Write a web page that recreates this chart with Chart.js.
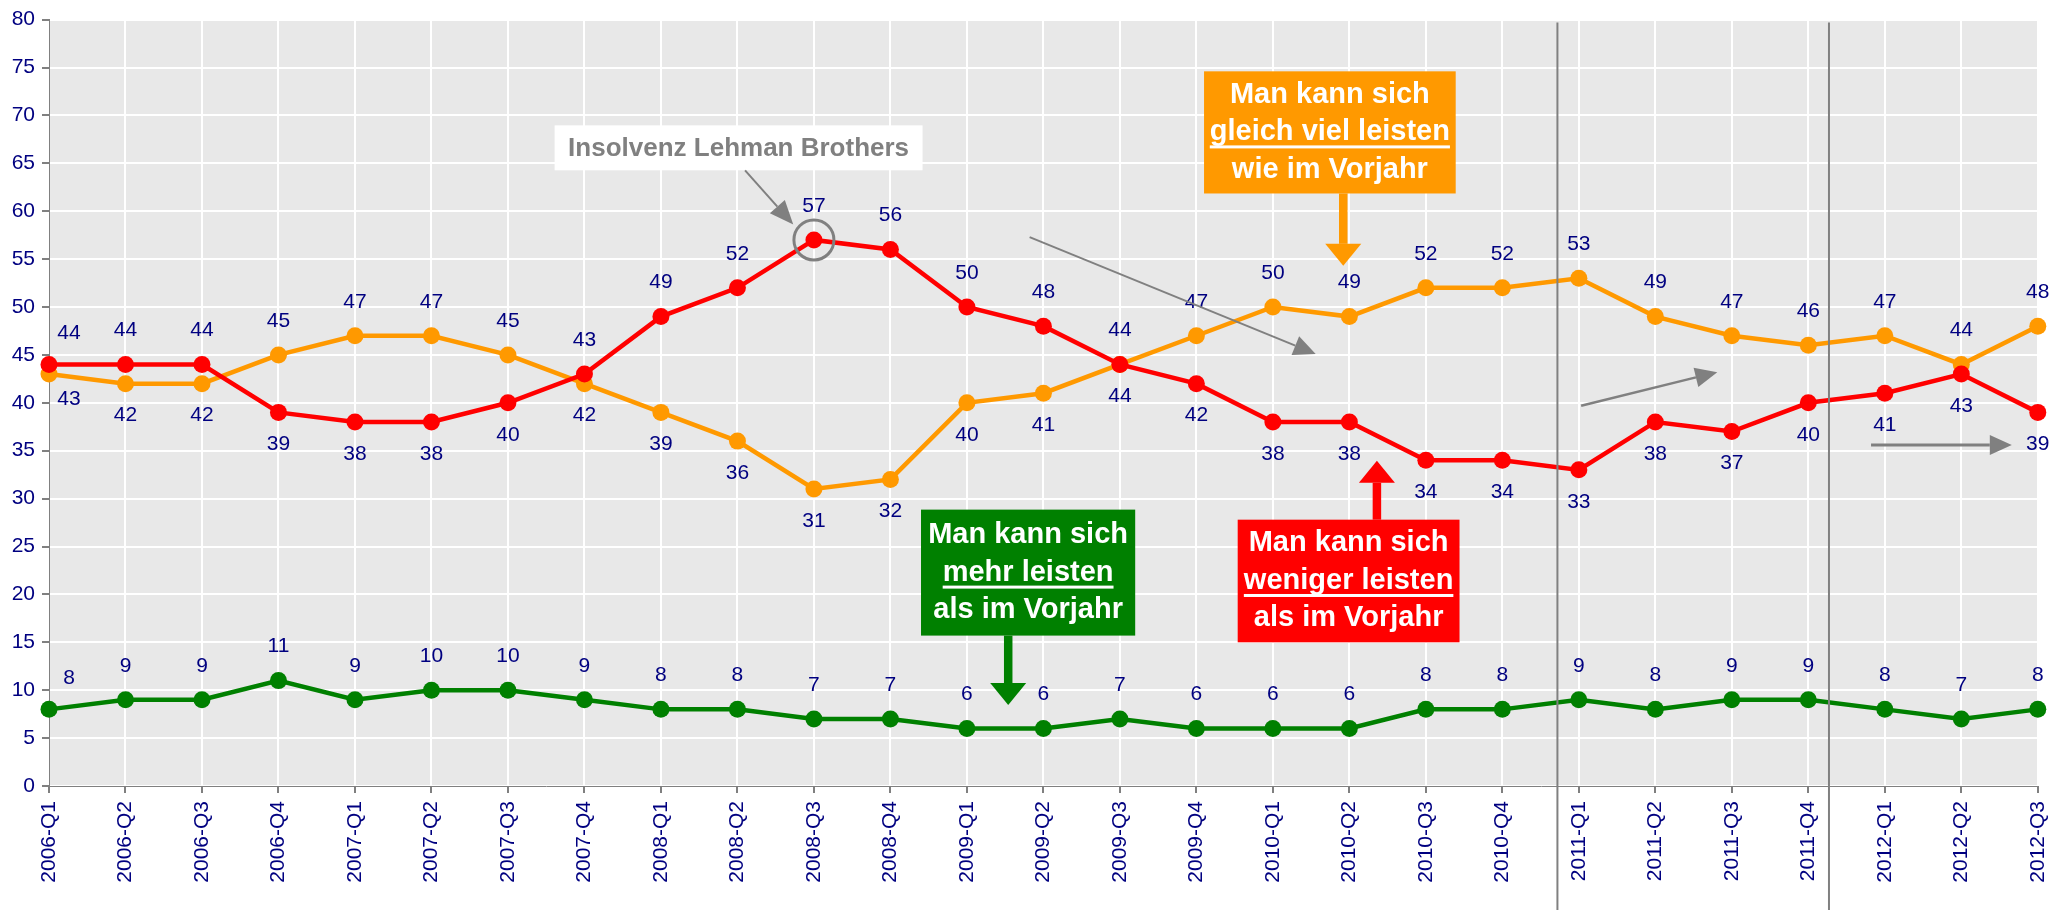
<!DOCTYPE html>
<html>
<head>
<meta charset="utf-8">
<script src="https://cdn.jsdelivr.net/npm/chart.js@4.4.1/dist/chart.umd.min.js"></script>
<style>
  html, body { margin: 0; padding: 0; background: #ffffff; }
  #chart { display: block; }
</style>
</head>
<body>
<canvas id="chart" width="2071" height="910"></canvas>
<script>
// ── Data ─────────────────────────────────────────────────────────────────────

const quarters = [
  '2006-Q1', '2006-Q2', '2006-Q3', '2006-Q4',
  '2007-Q1', '2007-Q2', '2007-Q3', '2007-Q4',
  '2008-Q1', '2008-Q2', '2008-Q3', '2008-Q4',
  '2009-Q1', '2009-Q2', '2009-Q3', '2009-Q4',
  '2010-Q1', '2010-Q2', '2010-Q3', '2010-Q4',
  '2011-Q1', '2011-Q2', '2011-Q3', '2011-Q4',
  '2012-Q1', '2012-Q2', '2012-Q3'
];

// "weniger leisten" (red), "gleich viel" (orange), "mehr leisten" (green)
const weniger = [44, 44, 44, 39, 38, 38, 40, 43, 49, 52, 57, 56, 50, 48, 44, 42, 38, 38, 34, 34, 33, 38, 37, 40, 41, 43, 39];
const gleich  = [43, 42, 42, 45, 47, 47, 45, 42, 39, 36, 31, 32, 40, 41, 44, 47, 50, 49, 52, 52, 53, 49, 47, 46, 47, 44, 48];
const mehr    = [8, 9, 9, 11, 9, 10, 10, 9, 8, 8, 7, 7, 6, 6, 7, 6, 6, 6, 8, 8, 9, 8, 9, 9, 8, 7, 8];

const yMin = 0;
const yMax = 80;
const yStep = 5;

// ── Styling ──────────────────────────────────────────────────────────────────

const FONT = "'Liberation Sans', Arial, sans-serif";
const NAVY = '#000080';
const RED = '#ff0000';
const ORANGE = '#ff9900';
const GREEN = '#008000';
const GREY = '#808080';

// Annotations, positioned in data units (x = category index, y = value)
const dividers = [19.72, 23.27];

const calloutBoxes = [
  { lines: ['Man kann sich', 'gleich viel leisten', 'wie im Vorjahr'], bg: ORANGE,
    x1: 15.10, x2: 18.39, top: 74.6, bottom: 61.85, arrowX: 16.92, arrowTip: 54.3 },
  { lines: ['Man kann sich', 'mehr leisten', 'als im Vorjahr'], bg: GREEN,
    x1: 11.40, x2: 14.20, top: 28.85, bottom: 15.7, arrowX: 12.54, arrowTip: 8.45 },
  { lines: ['Man kann sich', 'weniger leisten', 'als im Vorjahr'], bg: RED,
    x1: 15.54, x2: 18.44, top: 27.8, bottom: 15.0, arrowX: 17.36, arrowTip: 33.95 }
];

const lehman = { text: 'Insolvenz Lehman Brothers', x1: 6.61, x2: 11.42, top: 68.96, bottom: 64.27,
  from: [9.10, 64.27], to: [9.73, 58.6], circleIdx: 10 };

const trendArrows = [
  { from: [12.82, 57.3], to: [16.56, 45.1], width: 2 },
  { from: [20.03, 39.7], to: [21.81, 43.2], width: 2.5 },
  { from: [23.82, 35.6], to: [25.66, 35.6], width: 3 }
];

// ── Plugins ──────────────────────────────────────────────────────────────────

const plotBackground = {
  id: 'plotBackground',
  beforeDraw(chart) {
    const { ctx, chartArea } = chart;
    ctx.save();
    ctx.fillStyle = '#e8e8e8';
    ctx.fillRect(chartArea.left, chartArea.top, chartArea.right - chartArea.left, chartArea.bottom - chartArea.top);
    ctx.restore();
  }
};

const valueLabels = {
  id: 'valueLabels',
  afterDatasetsDraw(chart) {
    const ctx = chart.ctx;
    ctx.save();
    ctx.font = '21px ' + FONT;
    ctx.fillStyle = NAVY;
    ctx.textAlign = 'center';
    ctx.textBaseline = 'middle';
    chart.data.datasets.forEach((ds, di) => {
      const meta = chart.getDatasetMeta(di);
      meta.data.forEach((pt, i) => {
        let above = true;
        if (ds.data === weniger) above = weniger[i] >= gleich[i];
        if (ds.data === gleich) above = gleich[i] > weniger[i];
        let dx = 0, dy = above ? -34 : 32;
        if (i === 0) { dx = 20; dy = above ? -31 : 25; }
        ctx.fillText(String(ds.data[i]), pt.x + dx, pt.y + dy);
      });
    });
    ctx.restore();
  }
};

function drawArrow(ctx, x1, y1, x2, y2, width, headLen, headW, color) {
  const ang = Math.atan2(y2 - y1, x2 - x1);
  const bx = x2 - Math.cos(ang) * headLen;
  const by = y2 - Math.sin(ang) * headLen;
  ctx.strokeStyle = color;
  ctx.fillStyle = color;
  ctx.lineWidth = width;
  ctx.beginPath();
  ctx.moveTo(x1, y1);
  ctx.lineTo(bx, by);
  ctx.stroke();
  ctx.beginPath();
  ctx.moveTo(x2, y2);
  ctx.lineTo(bx + Math.sin(ang) * headW / 2, by - Math.cos(ang) * headW / 2);
  ctx.lineTo(bx - Math.sin(ang) * headW / 2, by + Math.cos(ang) * headW / 2);
  ctx.closePath();
  ctx.fill();
}

const annotations = {
  id: 'annotations',
  afterDraw(chart) {
    const { ctx } = chart;
    const xs = chart.scales.x, ys = chart.scales.y;
    const px = v => xs.getPixelForValue(v);
    const py = v => ys.getPixelForValue(v);
    ctx.save();

    // period dividers
    ctx.strokeStyle = GREY;
    ctx.lineWidth = 2;
    dividers.forEach(d => {
      ctx.beginPath();
      ctx.moveTo(px(d), py(79.7));
      ctx.lineTo(px(d), chart.height);
      ctx.stroke();
    });

    // trend arrows
    trendArrows.forEach(a => {
      drawArrow(ctx, px(a.from[0]), py(a.from[1]), px(a.to[0]), py(a.to[1]), a.width, 22, 20, GREY);
    });

    // Lehman note
    ctx.fillStyle = '#ffffff';
    const lx1 = px(lehman.x1), lx2 = px(lehman.x2), lt = py(lehman.top), lb = py(lehman.bottom);
    ctx.fillRect(lx1, lt, lx2 - lx1, lb - lt);
    ctx.fillStyle = GREY;
    ctx.font = 'bold 26px ' + FONT;
    ctx.textAlign = 'center';
    ctx.textBaseline = 'middle';
    ctx.fillText(lehman.text, (lx1 + lx2) / 2, (lt + lb) / 2 + 1);
    drawArrow(ctx, px(lehman.from[0]), py(lehman.from[1]), px(lehman.to[0]), py(lehman.to[1]), 2, 24, 20, GREY);
    ctx.strokeStyle = GREY;
    ctx.lineWidth = 3;
    ctx.beginPath();
    ctx.arc(px(lehman.circleIdx), py(weniger[lehman.circleIdx]), 20, 0, Math.PI * 2);
    ctx.stroke();

    // callout boxes
    calloutBoxes.forEach(b => {
      const x1 = px(b.x1), x2 = px(b.x2), t = py(b.top), bo = py(b.bottom);
      const cx = (x1 + x2) / 2, cy = (t + bo) / 2;
      ctx.fillStyle = b.bg;
      ctx.fillRect(x1, t, x2 - x1, bo - t);
      const ax = px(b.arrowX), tip = py(b.arrowTip);
      const start = tip > bo ? bo : t;
      drawArrow(ctx, ax, start, ax, tip, 8.5, 22, 36, b.bg);
      ctx.fillStyle = '#ffffff';
      ctx.font = 'bold 29px ' + FONT;
      ctx.textAlign = 'center';
      ctx.textBaseline = 'middle';
      const lh = 37.5;
      b.lines.forEach((line, li) => {
        const y = cy + (li - 1) * lh;
        ctx.fillText(line, cx, y);
        if (li === 1) {
          const w = ctx.measureText(line).width;
          ctx.fillRect(cx - w / 2, y + 13, w, 3);
        }
      });
    });

    ctx.restore();
  }
};

// ── Chart ────────────────────────────────────────────────────────────────────

function lineSet(label, values, color) {
  return {
    label: label,
    data: values,
    borderColor: color,
    backgroundColor: color,
    borderWidth: 4.5,
    pointRadius: 8.5,
    pointBorderWidth: 0,
    pointBackgroundColor: color,
    tension: 0,
    clip: false
  };
}

new Chart(document.getElementById('chart'), {
  type: 'line',
  data: {
    labels: quarters,
    datasets: [
      lineSet('weniger leisten', weniger, RED),
      lineSet('gleich viel leisten', gleich, ORANGE),
      lineSet('mehr leisten', mehr, GREEN)
    ]
  },
  options: {
    responsive: false,
    animation: false,
    devicePixelRatio: 1,
    layout: { padding: { top: 18, right: 33, left: 0, bottom: 0 } },
    plugins: {
      legend: { display: false },
      tooltip: { enabled: false }
    },
    scales: {
      x: {
        offset: false,
        grid: { color: '#ffffff', lineWidth: 2, tickColor: GREY, tickLength: 7 },
        border: { color: GREY, width: 1 },
        ticks: {
          color: NAVY, font: { family: FONT, size: 21 },
          minRotation: 90, maxRotation: 90, autoSkip: false, padding: 8
        },
        afterFit: s => { s.height = 124; }
      },
      y: {
        min: yMin, max: yMax,
        grid: { color: '#ffffff', lineWidth: 2, tickColor: GREY, tickLength: 7 },
        border: { color: GREY, width: 1 },
        ticks: { stepSize: yStep, color: NAVY, font: { family: FONT, size: 21 }, padding: 7 },
        afterFit: s => { s.width = 49; }
      }
    }
  },
  plugins: [plotBackground, valueLabels, annotations]
});
</script>
</body>
</html>
